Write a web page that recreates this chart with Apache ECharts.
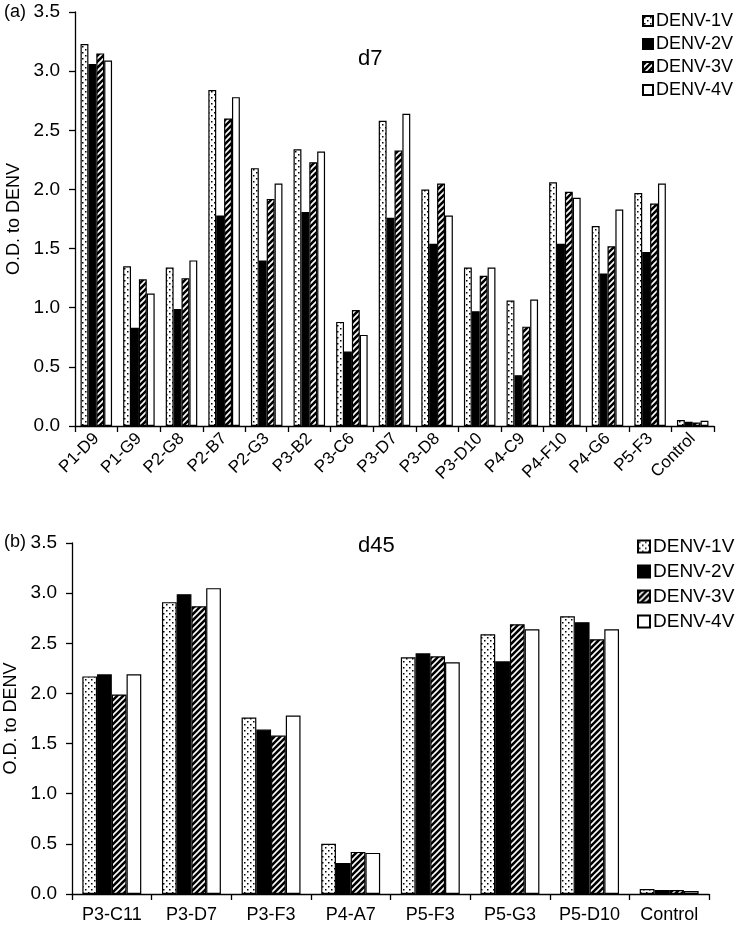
<!DOCTYPE html>
<html>
<head>
<meta charset="utf-8">
<script src="https://cdn.jsdelivr.net/npm/echarts@6/dist/echarts.min.js"></script>
<style>
  html, body { margin: 0; padding: 0; background: #fff; }
  #main { width: 742px; height: 928px; }
</style>
</head>
<body>
<div id="main"></div>
<script>
var seriesNames = ['DENV-1V', 'DENV-2V', 'DENV-3V', 'DENV-4V'];
var yTicks = [0, 0.5, 1, 1.5, 2, 2.5, 3, 3.5];

// panel (a) d7
var d7Clones = ['P1-D9', 'P1-G9', 'P2-G8', 'P2-B7', 'P2-G3', 'P3-B2', 'P3-C6', 'P3-D7',
  'P3-D8', 'P3-D10', 'P4-C9', 'P4-F10', 'P4-G6', 'P5-F3', 'Control'];
var d7Denv1 = [3.23, 1.35, 1.34, 2.84, 2.18, 2.34, 0.88, 2.58, 2.00, 1.34, 1.06, 2.06, 1.69, 1.97, 0.05];
var d7Denv2 = [3.06, 0.83, 0.99, 1.78, 1.40, 1.81, 0.63, 1.76, 1.54, 0.97, 0.43, 1.54, 1.29, 1.47, 0.035];
var d7Denv3 = [3.15, 1.24, 1.25, 2.60, 1.92, 2.23, 0.98, 2.33, 2.05, 1.27, 0.84, 1.98, 1.52, 1.88, 0.03];
var d7Denv4 = [3.09, 1.12, 1.40, 2.78, 2.05, 2.32, 0.77, 2.64, 1.78, 1.34, 1.07, 1.93, 1.83, 2.05, 0.045];

// panel (b) d45
var d45Clones = ['P3-C11', 'P3-D7', 'P3-F3', 'P4-A7', 'P5-F3', 'P5-G3', 'P5-D10', 'Control'];
var d45Denv1 = [2.17, 2.91, 1.76, 0.50, 2.36, 2.59, 2.77, 0.05];
var d45Denv2 = [2.19, 2.99, 1.64, 0.31, 2.40, 2.32, 2.71, 0.04];
var d45Denv3 = [1.99, 2.87, 1.58, 0.42, 2.37, 2.69, 2.54, 0.04];
var d45Denv4 = [2.19, 3.05, 1.78, 0.41, 2.31, 2.64, 2.64, 0.03];

var FONT = 'Liberation Sans, Arial, sans-serif';

// fill patterns
function dotTile() {
  var c = document.createElement('canvas');
  c.width = 6; c.height = 6;
  var g = c.getContext('2d');
  g.fillStyle = '#fff'; g.fillRect(0, 0, 6, 6);
  g.fillStyle = '#000';
  g.fillRect(1, 1, 1.5, 1.5);
  g.fillRect(4, 4, 1.5, 1.5);
  return c;
}
function hatchTile() {
  var c = document.createElement('canvas');
  c.width = 6; c.height = 6;
  var g = c.getContext('2d');
  g.fillStyle = '#000'; g.fillRect(0, 0, 6, 6);
  g.strokeStyle = '#fff'; g.lineWidth = 1.6;
  g.beginPath();
  g.moveTo(-1, 7); g.lineTo(7, -1);
  g.moveTo(-4, 4); g.lineTo(4, -4);
  g.moveTo(2, 10); g.lineTo(10, 2);
  g.stroke();
  return c;
}
var fills = [
  { image: dotTile(), repeat: 'repeat' },
  '#000',
  { image: hatchTile(), repeat: 'repeat' },
  '#fff'
];

function yAxis(gridIndex) {
  return {
    type: 'value', gridIndex: gridIndex,
    min: 0, max: 3.5, interval: 0.5,
    name: 'O.D. to DENV', nameLocation: 'middle', nameGap: 40,
    nameTextStyle: { fontFamily: FONT, fontSize: 18, color: '#000' },
    axisLine: { show: true, lineStyle: { color: '#000', width: 1.3 } },
    axisTick: { show: true, length: 6, lineStyle: { color: '#000', width: 1.3 } },
    axisLabel: { fontFamily: FONT, fontSize: 19, color: '#000', margin: 15,
      formatter: function (v) { return v.toFixed(1); } },
    splitLine: { show: false }
  };
}
function xAxis(gridIndex, data, rotate, fontSize) {
  return {
    type: 'category', gridIndex: gridIndex, data: data,
    axisLine: { lineStyle: { color: '#000', width: 1.3 } },
    axisTick: { show: true, length: 6, lineStyle: { color: '#000', width: 1.3 } },
    axisLabel: { fontFamily: FONT, fontSize: fontSize, color: '#000', rotate: rotate,
      margin: rotate ? 10 : 12, interval: 0 }
  };
}
function legend(top, left, size, gap, fontSize) {
  return {
    orient: 'vertical', left: left, top: top, icon: 'rect',
    itemWidth: size, itemHeight: size, itemGap: gap,
    data: seriesNames,
    textStyle: { fontFamily: FONT, fontSize: fontSize, color: '#000', padding: [0, 0, 0, -2] }
  };
}

var d7Data = [d7Denv1, d7Denv2, d7Denv3, d7Denv4];
var d45Data = [d45Denv1, d45Denv2, d45Denv3, d45Denv4];
var series = [];
[d7Data, d45Data].forEach(function (set, gi) {
  set.forEach(function (vals, i) {
    series.push({
      name: seriesNames[i], type: 'bar',
      xAxisIndex: gi, yAxisIndex: gi,
      data: vals,
      barGap: '0%', barCategoryGap: '26%',
      itemStyle: { color: fills[i], borderColor: '#000', borderWidth: 1.2 },
      emphasis: { disabled: true }
    });
  });
});

var myChart = echarts.init(document.getElementById('main'));
var option = {
  backgroundColor: '#fff',
  animation: false,
  title: [
    { text: 'd7', left: 353, top: 43, textStyle: { fontFamily: FONT, fontSize: 22, fontWeight: 'normal', color: '#000' } },
    { text: 'd45', left: 353, top: 530, textStyle: { fontFamily: FONT, fontSize: 22, fontWeight: 'normal', color: '#000' } }
  ],
  graphic: [
    { type: 'text', left: 4, top: 3, style: { text: '(a)', fontFamily: FONT, fontSize: 18, fill: '#000' } },
    { type: 'text', left: 4, top: 533, style: { text: '(b)', fontFamily: FONT, fontSize: 18, fill: '#000' } }
  ],
  legend: [
    legend(7, 637, 10, 5, 18),
    legend(532, 632, 12, 6, 19)
  ],
  grid: [
    { left: 75, top: 12, width: 639, height: 414, outerBoundsMode: 'none', containLabel: false },
    { left: 72, top: 543, width: 637, height: 351, outerBoundsMode: 'none', containLabel: false }
  ],
  xAxis: [xAxis(0, d7Clones, 45, 17), xAxis(1, d45Clones, 0, 18)],
  yAxis: [yAxis(0), yAxis(1)],
  series: series
};
myChart.setOption(option);
</script>
</body>
</html>
